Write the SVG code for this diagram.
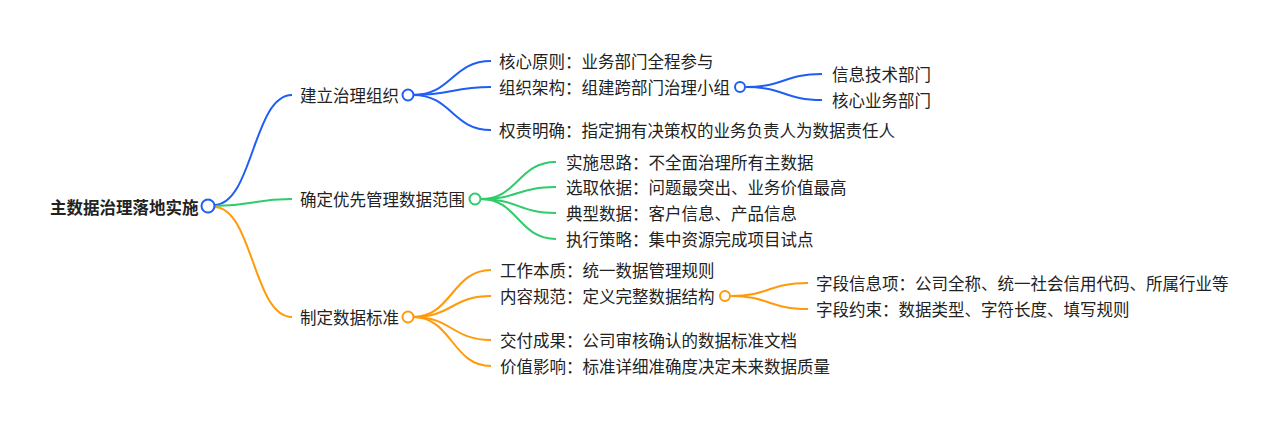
<svg xmlns="http://www.w3.org/2000/svg" width="1280" height="425" viewBox="0 0 1280 425">
<style>
text{font-family:"Noto Sans CJK SC","Noto Sans",sans-serif;font-size:16.5px;fill:#222;dominant-baseline:central}
.root{font-weight:bold}
.e{fill:none;stroke-width:2}
.b{stroke:#1f5ef5}
.g{stroke:#2ecc6a}
.o{stroke:#ff9a0a}
circle{fill:#fff;stroke-width:2}
</style>
<rect width="1280" height="425" fill="#fff"/>
<g id="connectors">
<path class="e b" d="M214,205 C253,205 253,95 292,95"/>
<path class="e g" d="M214,206 C253,206 253,199 292,199"/>
<path class="e o" d="M214,207 C253,207 253,317 292,317"/>
<path class="e b" d="M413,95 C452,95 452,61 491,61"/>
<path class="e b" d="M413,95 C452,95 452,87 491,87"/>
<path class="e b" d="M413,95 C452,95 452,130 491,130"/>
<path class="e b" d="M746,87 C784,87 784,74 822,74"/>
<path class="e b" d="M746,87 C784,87 784,100 822,100"/>
<path class="e g" d="M481,199 C518,199 518,162 556,162"/>
<path class="e g" d="M481,199 C518,199 518,187 556,187"/>
<path class="e g" d="M481,199 C518,199 518,213 556,213"/>
<path class="e g" d="M481,199 C518,199 518,239 556,239"/>
<path class="e o" d="M413,317 C452,317 452,270 491,270"/>
<path class="e o" d="M413,317 C452,317 452,296 491,296"/>
<path class="e o" d="M413,317 C452,317 452,340 491,340"/>
<path class="e o" d="M413,317 C452,317 452,366 491,366"/>
<path class="e o" d="M731,296 C769,296 769,283 808,283"/>
<path class="e o" d="M731,296 C769,296 769,309 808,309"/>
</g>
<g id="root"><text class="root" x="50" y="207">主数据治理落地实施</text><circle class="b" cx="208" cy="206" r="6.5"/></g>
<g id="n1"><text x="300" y="95">建立治理组织</text><circle class="b" cx="408" cy="95" r="5.5"/></g>
<g id="n2"><text x="300" y="199">确定优先管理数据范围</text><circle class="g" cx="475" cy="199" r="5.5"/></g>
<g id="n3"><text x="300" y="317">制定数据标准</text><circle class="o" cx="408" cy="317" r="5.5"/></g>
<g id="n1a"><text x="499" y="61">核心原则：业务部门全程参与</text></g>
<g id="n1b"><text x="499" y="87">组织架构：组建跨部门治理小组</text><circle class="b" cx="740" cy="87" r="5"/></g>
<g id="n1b1"><text x="832" y="74">信息技术部门</text></g>
<g id="n1b2"><text x="832" y="100">核心业务部门</text></g>
<g id="n1c"><text x="499" y="130">权责明确：指定拥有决策权的业务负责人为数据责任人</text></g>
<g id="n2a"><text x="566" y="162">实施思路：不全面治理所有主数据</text></g>
<g id="n2b"><text x="566" y="187">选取依据：问题最突出、业务价值最高</text></g>
<g id="n2c"><text x="566" y="213">典型数据：客户信息、产品信息</text></g>
<g id="n2d"><text x="566" y="239">执行策略：集中资源完成项目试点</text></g>
<g id="n3a"><text x="500" y="270">工作本质：统一数据管理规则</text></g>
<g id="n3b"><text x="500" y="296">内容规范：定义完整数据结构</text><circle class="o" cx="725" cy="296" r="5"/></g>
<g id="n3b1"><text x="816" y="283">字段信息项：公司全称、统一社会信用代码、所属行业等</text></g>
<g id="n3b2"><text x="816" y="309">字段约束：数据类型、字符长度、填写规则</text></g>
<g id="n3c"><text x="500" y="340">交付成果：公司审核确认的数据标准文档</text></g>
<g id="n3d"><text x="500" y="366">价值影响：标准详细准确度决定未来数据质量</text></g>
</svg>
